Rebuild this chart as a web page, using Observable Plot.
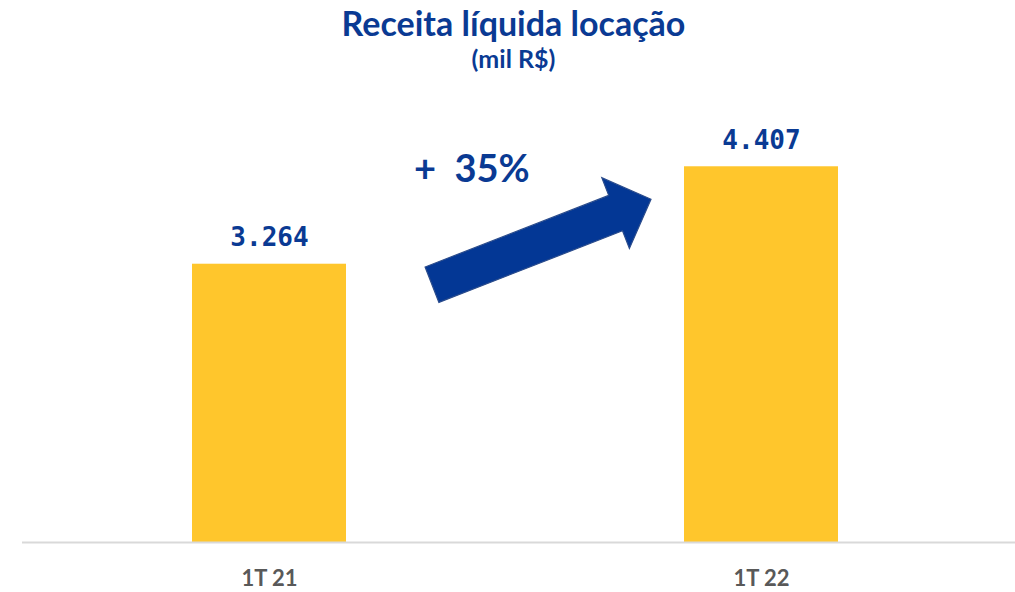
<!DOCTYPE html>
<html><head><meta charset="utf-8">
<script src="https://cdn.jsdelivr.net/npm/d3@7"></script>
<script src="https://cdn.jsdelivr.net/npm/@observablehq/plot@0.6"></script>
<style>
body{margin:0;background:#fff;width:1015px;height:592px;overflow:hidden;font-family:Lato,"Open Sans",sans-serif}
#head{position:relative;height:90px;width:1015px}
#title,#subtitle{position:absolute;left:6px;width:1015px;text-align:center;color:#0A3A93;font-weight:700;line-height:1;white-space:nowrap}
#title{top:6px;font-size:34px}
#subtitle{top:46px;font-size:25px}
#chart svg{display:block}
</style></head><body>
<div id="head"><div id="title">Receita líquida locação</div><div id="subtitle">(mil R$)</div></div>
<div id="chart"></div>
<script>
// Data
const periods = ["1T 21", "1T 22"];
const revenue = [3264, 4407];

const rows = periods.map((p, i) => ({period: p, value: revenue[i]}));
const ptBR = d3.formatLocale({decimal: ",", thousands: ".", grouping: [3], currency: ["R$", ""]});
const fmt = ptBR.format(",d");
const growth = Math.round((revenue[1] / revenue[0] - 1) * 100);
const growthLabel = "+\u00a0 " + growth + "%";

const blue = "#0A3A93";

// Arrow mark: drawn from the scales, from the first bar's top-right to the second bar's top-left
function arrowMark(index, scales) {
  const sx = scales.x, sy = scales.y;
  const bw = sx.bandwidth ? sx.bandwidth() : 0;
  const tail = [sx(periods[0]) + bw + 86, sy(revenue[0]) + 21];
  const tip = [sx(periods[1]) - 33, sy(revenue[1]) + 33];
  const dx = tip[0] - tail[0], dy = tip[1] - tail[1];
  const len = Math.hypot(dx, dy);
  const u = [dx / len, dy / len], n = [-u[1], u[0]];
  const shaft = 19, head = 38, headLen = 38;
  const base = [tip[0] - u[0] * headLen, tip[1] - u[1] * headLen];
  const p = (a, k) => [a[0] + n[0] * k, a[1] + n[1] * k];
  const pts = [p(tail, shaft), p(base, shaft), p(base, head), tip, p(base, -head), p(base, -shaft), p(tail, -shaft)];
  const g = d3.create("svg:g");
  g.append("path")
    .attr("d", "M" + pts.map(q => q[0].toFixed(1) + "," + q[1].toFixed(1)).join("L") + "Z")
    .attr("fill", "#033795")
    .attr("stroke", "#2B4C8C")
    .attr("stroke-width", 1.2);
  return g.node();
}

const chart = Plot.plot({
  width: 1015,
  height: 502,
  marginLeft: 22,
  marginRight: 0,
  marginTop: 20,
  marginBottom: 50,
  style: {background: "transparent", fontFamily: "Lato, sans-serif"},
  x: {domain: periods, paddingInner: 0.6863, paddingOuter: 0.3516, align: 0.491, label: null},
  y: {domain: [0, 5067], axis: null},
  marks: [
    Plot.barY(rows, {x: "period", y: "value", fill: "#FFC62C"}),
    Plot.ruleY([0], {stroke: "#D9D9D9", strokeWidth: 2}),
    Plot.text(rows, {x: "period", y: "value", text: d => fmt(d.value), lineAnchor: "bottom", dy: -18,
      fill: blue, fontFamily: "DejaVu Sans Mono", fontWeight: "bold", fontSize: 26}),
    Plot.text([growthLabel], {x: () => periods[0], y: () => revenue[1], text: d => d, textAnchor: "start",
      lineAnchor: "bottom", dx: 144.5, dy: 15.7, fill: blue, fontFamily: "Lato", fontWeight: "bold", fontSize: 38}),
    arrowMark,
    Plot.axisX({tickSize: 0, tickPadding: 28, fontSize: 22, fontWeight: "bold", fill: "#595959", label: null, fontFamily: "Lato"})
  ]
});
document.getElementById("chart").appendChild(chart);
</script>
</body></html>
